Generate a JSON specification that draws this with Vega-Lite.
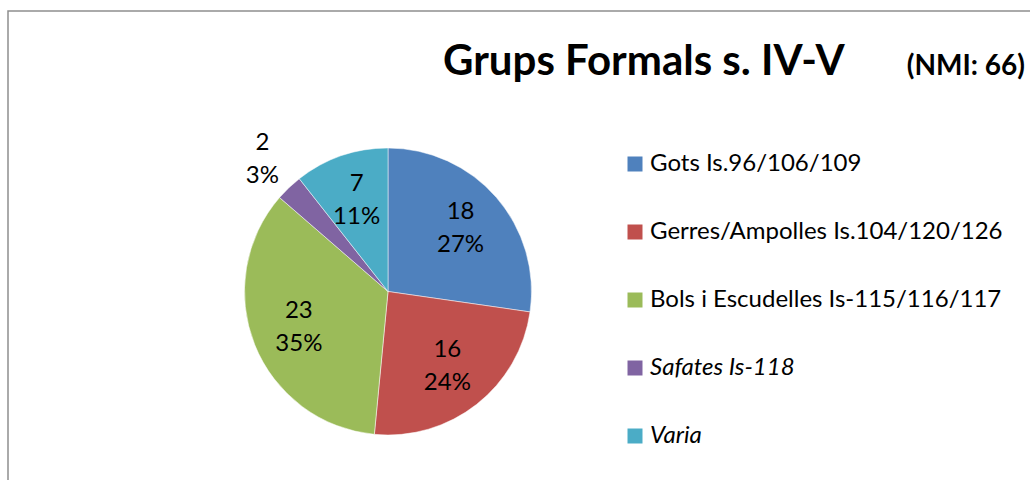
{
  "$schema": "https://vega.github.io/schema/vega-lite/v6.json",
  "width": 1030,
  "height": 480,
  "autosize": {"type": "fit", "contains": "padding"},
  "padding": {"left": 8, "top": 11, "right": -3, "bottom": -3},
  "background": "white",
  "view": {"stroke": "#8e8e8e", "strokeWidth": 1.5},
  "config": {"view": {"stroke": "#8e8e8e", "strokeWidth": 1.5}, "style": {"cell": {"stroke": "#8e8e8e", "strokeWidth": 1.5}}, "font": "Lato"},
  "title": {
    "text": "Grups Formals s. IV-V",
    "anchor": "start",
    "dx": 435,
    "offset": -106,
    "baseline": "alphabetic",
    "fontSize": 42,
    "fontWeight": "bold",
    "font": "Lato",
    "color": "black"
  },
  "data": {
    "values": [
      {"k": 1, "cat": "Gots Is.96/106/109", "n": 18},
      {"k": 2, "cat": "Gerres/Ampolles Is.104/120/126", "n": 16},
      {"k": 3, "cat": "Bols i Escudelles Is-115/116/117", "n": 23},
      {"k": 4, "cat": "Safates Is-118", "n": 2},
      {"k": 5, "cat": "Varia", "n": 7}
    ]
  },
  "layer": [
    {
      "mark": {"type": "arc", "outerRadius": 143.5, "x": 380, "y": 280.5, "stroke": "white", "strokeWidth": 0.5},
      "encoding": {
        "theta": {"field": "n", "type": "quantitative", "stack": true},
        "order": {"field": "k", "type": "quantitative"},
        "color": {
          "field": "cat",
          "type": "nominal",
          "scale": {
            "domain": ["Gots Is.96/106/109", "Gerres/Ampolles Is.104/120/126", "Bols i Escudelles Is-115/116/117", "Safates Is-118", "Varia"],
            "range": ["#4F81BD", "#C0504D", "#9BBB59", "#8064A2", "#4BACC6"]
          },
          "legend": {
            "orient": "none",
            "legendX": 615,
            "legendY": 141,
            "title": null,
            "padding": 0,
            "symbolType": "square",
            "symbolSize": 225,
            "symbolStrokeWidth": 0,
            "labelFontSize": 24,
            "labelFont": "Lato",
            "labelColor": "black",
            "labelLimit": 600,
            "labelOffset": 3,
            "rowPadding": 44,
            "labelFontStyle": {"expr": "datum.value == 'Varia' || datum.value == 'Safates Is-118' ? 'italic' : 'normal'"}
          }
        }
      }
    },
    {
      "transform": [
        {"joinaggregate": [{"op": "sum", "field": "n", "as": "tot"}]},
        {"calculate": "datum.n + '\\n' + format(datum.n / datum.tot, '.0%')", "as": "lab"}
      ],
      "mark": {
        "type": "text",
        "x": 380,
        "y": 280.5,
        "dy": -16.5,
        "radius": {"expr": "datum.n < 5 ? 182 : 96"},
        "fontSize": 24,
        "lineHeight": 33,
        "lineBreak": "\n",
        "font": "Lato",
        "color": "black"
      },
      "encoding": {
        "theta": {"field": "n", "type": "quantitative", "stack": true},
        "order": {"field": "k", "type": "quantitative"},
        "detail": {"field": "cat"},
        "text": {"field": "lab"}
      }
    },
    {
      "data": {"values": [{"t": "(NMI: 66)"}]},
      "mark": {
        "type": "text",
        "x": 1017,
        "y": 64,
        "align": "right",
        "baseline": "alphabetic",
        "fontSize": 28,
        "fontWeight": "bold",
        "font": "Lato",
        "color": "black"
      },
      "encoding": {"text": {"field": "t"}}
    }
  ]
}
